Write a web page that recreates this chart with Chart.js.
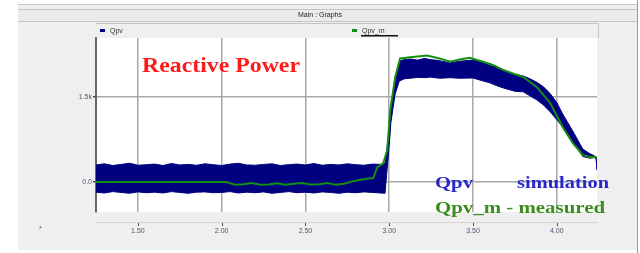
<!DOCTYPE html>
<html>
<head>
<meta charset="utf-8">
<script src="https://cdn.jsdelivr.net/npm/chart.js@4.4.0/dist/chart.umd.min.js"></script>
<style>
  html, body { margin: 0; padding: 0; background: #fff; }
  canvas { display: block; }
</style>
</head>
<body>
<canvas id="graph" width="640" height="253"></canvas>
<script>
// x ticks (s) and y ticks
const xTicks = [1.5, 2.0, 2.5, 3.0, 3.5, 4.0];
const yTicks = [0, 1500];
const yTickLabels = ['0.0', '1.5k'];

// Qpv (simulation) - drawn as min/max envelope of the noisy trace
const qpvTime = [1.25, 1.30, 1.35, 1.40, 1.45, 1.50, 1.55, 1.60, 1.65, 1.70, 1.75, 1.80, 1.85, 1.90, 1.95,
  2.00, 2.05, 2.10, 2.15, 2.20, 2.25, 2.30, 2.35, 2.40, 2.45, 2.50, 2.55, 2.60, 2.65, 2.70, 2.75, 2.80, 2.85,
  2.90, 2.95, 2.975, 2.985, 3.00, 3.01, 3.035, 3.06, 3.09, 3.125, 3.17, 3.21, 3.244, 3.30, 3.363, 3.42, 3.50,
  3.55, 3.60, 3.64, 3.68, 3.75, 3.80, 3.84, 3.88, 3.92, 3.96, 4.00, 4.035, 4.065, 4.095, 4.125, 4.155, 4.196,
  4.225, 4.235, 4.24];
const qpvMax = [300, 320, 290, 310, 330, 295, 305, 315, 290, 325, 300, 310, 295, 320, 305,
  290, 315, 330, 300, 295, 310, 320, 290, 305, 315, 300, 325, 295, 310, 300, 320, 305, 295,
  315, 310, 330, 560, 900, 1300, 1850, 2130, 2160, 2170, 2150, 2180, 2160, 2140, 2100, 2130, 2150,
  2120, 2090, 2040, 1960, 1900, 1870, 1820, 1760, 1680, 1560, 1400, 1200, 1050, 900, 740, 580, 500,
  460, 440, 210];
const qpvMin = [-180, -195, -170, -185, -200, -175, -190, -180, -195, -170, -185, -200, -180, -175, -190,
  -185, -170, -195, -180, -190, -175, -200, -185, -170, -190, -180, -195, -175, -185, -200, -180, -190, -175,
  -185, -195, -200, 150, 650, 1050, 1550, 1780, 1820, 1830, 1845, 1840, 1850, 1830, 1840, 1830, 1835,
  1790, 1750, 1700, 1660, 1600, 1590, 1520, 1450, 1360, 1240, 1100, 970, 830, 700, 580, 450, 420,
  430, 400, 210];

// Qpv_m (measured)
const qpvmTime = [1.25, 2.03, 2.08, 2.13, 2.18, 2.23, 2.28, 2.33, 2.38, 2.43, 2.48, 2.53, 2.58, 2.63, 2.68,
  2.73, 2.78, 2.83, 2.88, 2.905, 2.929, 2.964, 2.988, 3.006, 3.036, 3.065, 3.125, 3.226, 3.30, 3.363, 3.42,
  3.48, 3.56, 3.62, 3.68, 3.75, 3.80, 3.88, 3.96, 4.035, 4.095, 4.155, 4.196, 4.238];
const qpvm = [0, 0, -50, -40, -20, -50, -45, -25, -50, -30, -20, -45, -40, -20, -50,
  -30, 10, 40, 60, 70, 260, 330, 560, 1270, 1850, 2180, 2200, 2230, 2180, 2120, 2160,
  2190, 2120, 2060, 1977, 1900, 1853, 1677, 1395, 970, 690, 477, 440, 440];

const toPoints = (xs, ys) => xs.map((x, i) => ({ x: x, y: ys[i] }));

// draw text squeezed/stretched to a given width
function fitText(ctx, text, x, y, w, font, color) {
  ctx.save();
  ctx.font = font;
  ctx.fillStyle = color;
  ctx.textBaseline = 'alphabetic';
  const m = ctx.measureText(text).width;
  ctx.translate(x, y);
  ctx.scale(w / m, 1);
  ctx.fillText(text, 0, 0);
  ctx.restore();
}

// window frame, header, legend strip, plot background
const frame = {
  id: 'frame',
  beforeDraw(chart) {
    const { ctx, chartArea: a } = chart;
    ctx.save();
    ctx.fillStyle = '#ffffff';
    ctx.fillRect(0, 0, 640, 253);
    ctx.fillStyle = '#efefef';
    ctx.fillRect(18, 4, 619, 246);
    ctx.strokeStyle = '#c4c4c4';
    ctx.lineWidth = 1;
    ctx.beginPath();
    ctx.moveTo(18, 4.5); ctx.lineTo(637, 4.5);
    ctx.moveTo(18, 9.5); ctx.lineTo(637, 9.5);
    ctx.moveTo(18, 21.5); ctx.lineTo(637, 21.5);
    ctx.stroke();
    ctx.fillStyle = '#ebebeb';
    ctx.fillRect(18, 10, 619, 11);
    ctx.strokeStyle = '#9a9a9a';
    ctx.beginPath();
    ctx.moveTo(637.5, 0); ctx.lineTo(637.5, 253);
    ctx.stroke();

    ctx.fillStyle = '#222';
    ctx.font = '7px "Liberation Sans", Arial';
    ctx.textAlign = 'center';
    ctx.textBaseline = 'middle';
    ctx.fillText('Main : Graphs', 320, 15.5);

    // legend strip
    ctx.strokeStyle = '#c4c4c4';
    ctx.beginPath();
    ctx.moveTo(96, 23.5); ctx.lineTo(598, 23.5);
    ctx.moveTo(598.5, 23); ctx.lineTo(598.5, 38);
    ctx.stroke();
    ctx.fillStyle = '#000080';
    ctx.fillRect(100, 29, 5, 3);
    ctx.fillStyle = '#109010';
    ctx.fillRect(352, 29, 5, 3);
    ctx.fillStyle = '#333';
    ctx.textAlign = 'left';
    ctx.fillText('Qpv', 110, 31);
    ctx.fillText('Qpv_m', 362, 31);
    ctx.fillStyle = '#111';
    ctx.fillRect(361, 35, 37, 1.5);

    // plot background
    ctx.fillStyle = '#ffffff';
    ctx.fillRect(a.left, a.top, a.right - a.left, a.bottom - a.top);

    // lower strip with tick marks
    ctx.strokeStyle = '#d4d4d4';
    ctx.beginPath();
    ctx.moveTo(96, 222.5); ctx.lineTo(598, 222.5);
    ctx.stroke();
    const xs = chart.scales.x;
    ctx.strokeStyle = '#555';
    ctx.beginPath();
    xTicks.forEach(v => {
      const px = Math.round(xs.getPixelForValue(v)) + 0.5;
      ctx.moveTo(px, 223); ctx.lineTo(px, 226);
    });
    ctx.stroke();
    ctx.fillStyle = '#555';
    ctx.font = '7px "Liberation Sans", Arial';
    ctx.fillText('*', 39, 229);
    ctx.restore();
  },
  afterDraw(chart) {
    const ctx = chart.ctx;
    fitText(ctx, 'Reactive Power', 142, 72, 158, 'bold 20px "Liberation Serif", serif', '#ff1a1a');
    fitText(ctx, 'Qpv', 435, 188, 38, 'bold 16px "Liberation Serif", serif', '#2626cc');
    fitText(ctx, 'simulation', 517, 188, 92, 'bold 16px "Liberation Serif", serif', '#2626cc');
    fitText(ctx, 'Qpv_m - measured', 435, 213, 170, 'bold 16px "Liberation Serif", serif', '#3c8c1e');
  }
};

new Chart(document.getElementById('graph').getContext('2d'), {
  type: 'line',
  data: {
    datasets: [
      { label: 'Qpv_m', data: toPoints(qpvmTime, qpvm), borderColor: '#139013', borderWidth: 2,
        pointRadius: 0, fill: false, tension: 0 },
      { label: 'Qpv', data: toPoints(qpvTime, qpvMax), borderColor: '#000080', backgroundColor: '#000080',
        borderWidth: 1, pointRadius: 0, fill: '+1', tension: 0 },
      { label: 'Qpv min', data: toPoints(qpvTime, qpvMin), borderColor: '#000080', borderWidth: 1,
        pointRadius: 0, fill: false, tension: 0 }
    ]
  },
  options: {
    responsive: false,
    animation: false,
    layout: { padding: { left: 0, right: 43, top: 38, bottom: 0 } },
    plugins: { legend: { display: false }, tooltip: { enabled: false } },
    scales: {
      x: {
        type: 'linear', min: 1.25, max: 4.24,
        afterBuildTicks: s => { s.ticks = xTicks.map(v => ({ value: v })); },
        afterFit: s => { s.height = 41; },
        ticks: { callback: v => v.toFixed(2), font: { size: 7, family: '"Liberation Sans", Arial' },
          color: '#4a5570', padding: 15, maxRotation: 0 },
        grid: { color: '#a8a8a8', lineWidth: 1.5, drawTicks: false },
        border: { display: false }
      },
      y: {
        min: -530, max: 2540,
        afterBuildTicks: s => { s.ticks = yTicks.map(v => ({ value: v })); },
        afterFit: s => { s.width = 96; },
        ticks: { callback: v => yTickLabels[yTicks.indexOf(v)], font: { size: 7, family: '"Liberation Sans", Arial' },
          color: '#4a5570', padding: 1 },
        grid: { color: '#a8a8a8', lineWidth: 1.5, tickLength: 3, tickColor: '#444' },
        border: { color: '#666', width: 2 }
      }
    }
  },
  plugins: [frame]
});
</script>
</body>
</html>
